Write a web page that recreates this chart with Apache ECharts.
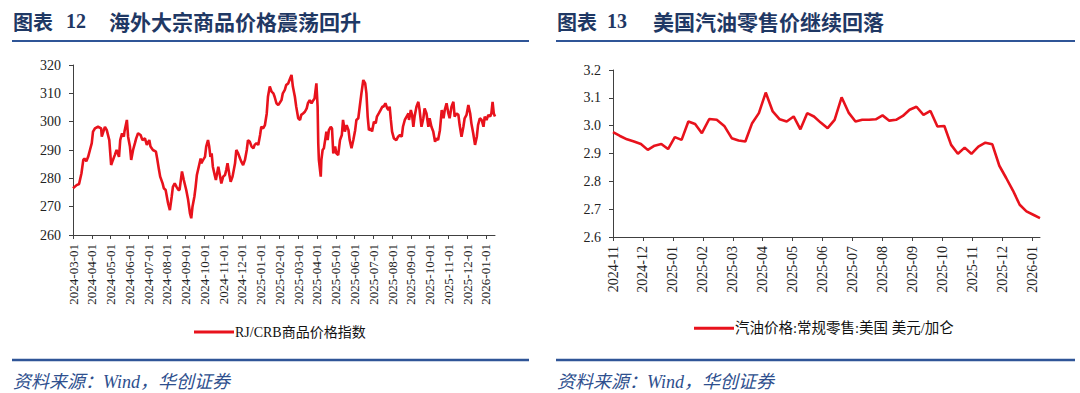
<!DOCTYPE html>
<html><head><meta charset="utf-8">
<script src="https://cdn.jsdelivr.net/npm/echarts@6/dist/echarts.min.js"></script>
<style>html,body{margin:0;padding:0;background:#fff;}#c{width:1080px;height:393px;}</style>
</head><body><div id="c"></div>
<script>
// ---------- Chart 12 data: RJ/CRB commodity index ----------
const crbName = 'RJ/CRB商品价格指数';
const crbTickLabels = ['2024-03-01','2024-04-01','2024-05-01','2024-06-01','2024-07-01','2024-08-01','2024-09-01','2024-10-01','2024-11-01','2024-12-01','2025-01-01','2025-02-01','2025-03-01','2025-04-01','2025-05-01','2025-06-01','2025-07-01','2025-08-01','2025-09-01','2025-10-01','2025-11-01','2025-12-01','2026-01-01'];
const crbDates = ['2024-03-01','2024-03-07','2024-03-11','2024-03-15','2024-03-18','2024-03-20','2024-03-23','2024-03-26','2024-03-29','2024-04-01','2024-04-03','2024-04-06','2024-04-11','2024-04-16','2024-04-17','2024-04-22','2024-04-25','2024-04-29','2024-05-01','2024-05-02','2024-05-05','2024-05-08','2024-05-11','2024-05-15','2024-05-17','2024-05-20','2024-05-23','2024-05-24','2024-05-28','2024-05-30','2024-06-02','2024-06-04','2024-06-07','2024-06-10','2024-06-12','2024-06-15','2024-06-19','2024-06-22','2024-06-26','2024-06-29','2024-07-03','2024-07-05','2024-07-09','2024-07-14','2024-07-16','2024-07-19','2024-07-21','2024-07-25','2024-07-27','2024-07-30','2024-08-03','2024-08-06','2024-08-09','2024-08-11','2024-08-14','2024-08-17','2024-08-20','2024-08-22','2024-08-26','2024-08-29','2024-09-02','2024-09-05','2024-09-08','2024-09-10','2024-09-12','2024-09-15','2024-09-17','2024-09-19','2024-09-22','2024-09-25','2024-09-26','2024-09-29','2024-10-02','2024-10-04','2024-10-07','2024-10-09','2024-10-11','2024-10-13','2024-10-15','2024-10-18','2024-10-20','2024-10-24','2024-10-26','2024-10-29','2024-11-01','2024-11-04','2024-11-06','2024-11-08','2024-11-11','2024-11-13','2024-11-16','2024-11-20','2024-11-22','2024-11-25','2024-11-28','2024-11-30','2024-12-03','2024-12-06','2024-12-09','2024-12-11','2024-12-14','2024-12-17','2024-12-20','2024-12-22','2024-12-25','2024-12-28','2024-12-31','2025-01-02','2025-01-05','2025-01-08','2025-01-11','2025-01-13','2025-01-16','2025-01-19','2025-01-22','2025-01-24','2025-01-27','2025-01-30','2025-02-01','2025-02-04','2025-02-06','2025-02-09','2025-02-11','2025-02-14','2025-02-16','2025-02-19','2025-02-21','2025-02-24','2025-02-26','2025-03-01','2025-03-04','2025-03-06','2025-03-09','2025-03-12','2025-03-15','2025-03-17','2025-03-20','2025-03-23','2025-03-26','2025-03-28','2025-03-31','2025-04-02','2025-04-03','2025-04-04','2025-04-07','2025-04-08','2025-04-10','2025-04-12','2025-04-14','2025-04-16','2025-04-18','2025-04-20','2025-04-23','2025-04-25','2025-04-27','2025-04-30','2025-05-02','2025-05-05','2025-05-08','2025-05-11','2025-05-13','2025-05-16','2025-05-19','2025-05-22','2025-05-24','2025-05-27','2025-05-30','2025-06-02','2025-06-04','2025-06-07','2025-06-10','2025-06-12','2025-06-15','2025-06-18','2025-06-20','2025-06-22','2025-06-24','2025-06-27','2025-06-29','2025-07-02','2025-07-05','2025-07-07','2025-07-10','2025-07-13','2025-07-16','2025-07-18','2025-07-21','2025-07-24','2025-07-26','2025-07-28','2025-07-30','2025-08-01','2025-08-04','2025-08-08','2025-08-11','2025-08-14','2025-08-17','2025-08-19','2025-08-22','2025-08-25','2025-08-28','2025-08-29','2025-09-01','2025-09-03','2025-09-05','2025-09-07','2025-09-10','2025-09-13','2025-09-15','2025-09-18','2025-09-21','2025-09-23','2025-09-26','2025-09-29','2025-10-01','2025-10-04','2025-10-07','2025-10-10','2025-10-12','2025-10-15','2025-10-18','2025-10-21','2025-10-24','2025-10-26','2025-10-29','2025-11-01','2025-11-03','2025-11-06','2025-11-09','2025-11-11','2025-11-14','2025-11-17','2025-11-19','2025-11-22','2025-11-25','2025-11-27','2025-11-30','2025-12-03','2025-12-06','2025-12-08','2025-12-11','2025-12-14','2025-12-17','2025-12-19','2025-12-22','2025-12-25','2025-12-28','2025-12-30','2026-01-02','2026-01-05','2026-01-08','2026-01-10','2026-01-12','2026-01-14','2026-01-16'];
const crbValues = [276.5,277.6,278.0,281.8,286.5,287.0,286.0,287.6,290.0,292.4,296.5,297.6,298.2,297.6,294.7,298.2,297.0,293.5,287.6,284.7,286.5,288.2,290.0,287.6,293.5,295.9,294.7,296.5,300.6,294.7,291.2,286.5,290.0,292.4,294.1,295.9,295.3,293.5,294.1,291.8,293.5,291.2,290.0,289.4,287.0,283.0,280.6,278.2,276.5,275.9,271.2,268.8,273.5,277.0,278.2,277.0,275.9,275.9,282.4,279.4,275.9,272.4,267.6,265.9,270.0,273.5,277.0,281.2,284.1,287.0,285.3,286.5,287.6,291.2,293.5,291.2,287.6,288.8,284.1,281.2,279.4,284.1,281.8,278.2,280.6,281.2,283.0,285.3,281.2,278.8,280.6,285.3,290.0,288.8,287.0,285.9,284.7,286.5,290.0,293.5,292.9,291.2,290.6,291.8,292.4,291.8,295.3,298.2,297.6,298.8,302.9,308.8,312.4,310.6,310.0,308.8,306.5,305.9,306.5,307.6,310.0,311.2,312.9,313.5,314.7,316.5,312.4,308.8,305.3,301.2,300.6,302.4,302.9,303.5,304.7,306.5,307.6,306.5,307.6,308.2,313.5,305.3,292.4,286.5,280.6,286.5,290.0,290.6,293.5,296.5,293.5,297.0,298.2,297.6,288.8,291.2,288.8,288.2,293.5,295.3,300.6,296.5,298.8,297.0,293.5,290.6,293.5,297.0,300.6,301.2,306.5,310.0,314.7,313.5,310.0,301.8,297.0,297.6,296.5,300.0,299.4,301.8,302.9,304.1,305.3,305.3,306.5,304.7,304.1,305.3,300.6,296.5,294.1,293.5,294.7,295.3,294.7,298.2,300.6,301.8,302.9,300.6,304.1,302.4,298.2,301.8,305.3,307.0,304.1,298.2,301.2,304.7,302.9,298.2,301.2,298.2,296.5,292.9,294.1,293.5,297.0,304.1,301.2,304.1,306.5,302.9,301.2,305.3,307.0,301.8,302.9,302.4,298.8,294.7,298.2,301.2,302.4,305.9,302.9,299.4,295.9,291.8,294.7,298.8,301.2,300.6,298.2,301.8,300.6,302.4,301.8,302.9,307.0,302.9,301.8];

// ---------- Chart 13 data: US regular gasoline retail price ----------
const gasName = '汽油价格:常规零售:美国 美元/加仑';
const gasTickLabels = ['2024-11','2024-12','2025-01','2025-02','2025-03','2025-04','2025-05','2025-06','2025-07','2025-08','2025-09','2025-10','2025-11','2025-12','2026-01'];
const gasDates = ['2024-11-01','2024-11-08','2024-11-15','2024-11-22','2024-11-29','2024-12-06','2024-12-13','2024-12-20','2024-12-27','2025-01-03','2025-01-10','2025-01-17','2025-01-24','2025-01-31','2025-02-07','2025-02-14','2025-02-21','2025-02-28','2025-03-07','2025-03-14','2025-03-21','2025-03-28','2025-04-04','2025-04-11','2025-04-18','2025-04-25','2025-05-02','2025-05-09','2025-05-16','2025-05-23','2025-05-30','2025-06-06','2025-06-13','2025-06-20','2025-06-27','2025-07-04','2025-07-11','2025-07-18','2025-07-25','2025-08-01','2025-08-08','2025-08-15','2025-08-22','2025-08-29','2025-09-05','2025-09-12','2025-09-19','2025-09-26','2025-10-03','2025-10-10','2025-10-17','2025-10-24','2025-10-31','2025-11-07','2025-11-14','2025-11-21','2025-11-28','2025-12-05','2025-12-12','2025-12-19','2025-12-26','2026-01-02','2026-01-09'];
const gasValues = [2.977,2.963,2.951,2.943,2.934,2.913,2.928,2.934,2.916,2.959,2.949,3.015,3.006,2.973,3.024,3.021,2.999,2.955,2.947,2.943,3.009,3.045,3.119,3.051,3.023,3.015,3.033,2.987,3.045,3.033,3.011,2.991,3.021,3.102,3.047,3.015,3.021,3.021,3.023,3.037,3.018,3.021,3.035,3.057,3.068,3.039,3.053,2.997,2.999,2.931,2.899,2.921,2.899,2.925,2.939,2.933,2.856,2.812,2.767,2.716,2.692,2.680,2.668];

// month index (fractional) relative to a base month
function daysIn(y, m) { return new Date(y, m, 0).getDate(); }
function monthIndex(s, by, bm) {
  const [y, m, d] = s.split('-').map(Number);
  return (y - by) * 12 + (m - bm) + (d - 1) / daysIn(y, m);
}
const crbData = crbDates.map((d, i) => [monthIndex(d, 2024, 3), crbValues[i]]);
const gasData = gasDates.map((d, i) => [monthIndex(d, 2024, 11), gasValues[i]]);

const RED = '#E8121C';
const AX = '#404040';
const SERIF = "'Liberation Serif','Times New Roman','Noto Sans CJK SC',serif";
const CJK = "'Liberation Serif','Noto Sans CJK SC',serif";
const NAVY = '#1F3864';
const BLUE = '#2F5597';

function xAxisDef(grid, labels, fs, margin) {
  const vals = labels.map((_, i) => i);
  return {
    type: 'value', gridIndex: grid, min: 0, max: v => v.max,
    axisLine: { show: true, lineStyle: { color: AX, width: 1 } },
    axisTick: { show: true, length: 4, lineStyle: { color: AX }, customValues: vals },
    axisLabel: { rotate: 90, margin: margin, fontFamily: SERIF, fontSize: fs, color: '#222',
      customValues: vals, formatter: v => labels[Math.round(v)] || '' },
    splitLine: { show: false }
  };
}
function yAxisDef(grid, min, max, interval, fmt) {
  return {
    type: 'value', gridIndex: grid, min, max, interval,
    axisLine: { show: true, lineStyle: { color: AX, width: 1 } },
    axisTick: { show: true, length: 4, lineStyle: { color: AX } },
    axisLabel: { margin: 12, fontFamily: SERIF, fontSize: 14, color: '#222', formatter: fmt },
    splitLine: { show: false }
  };
}
function txt(x, y, text, font, fill) {
  return { type: 'text', silent: true, style: { x, y, text, font, fill, textVerticalAlign: 'middle', verticalAlign: 'middle' } };
}
function hline(x1, x2, y, w) {
  return { type: 'line', silent: true, shape: { x1, y1: y, x2, y2: y }, style: { stroke: BLUE, lineWidth: w } };
}

const chart = echarts.init(document.getElementById('c'), null, { renderer: 'svg', width: 1080, height: 393 });
chart.setOption({
  animation: false,
  backgroundColor: '#fff',
  grid: [
    { left: 73, top: 65, width: 422, height: 170 },
    { left: 613, top: 70, width: 427, height: 167 }
  ],
  xAxis: [xAxisDef(0, crbTickLabels, 13, 9), xAxisDef(1, gasTickLabels, 14, 9)],
  yAxis: [
    yAxisDef(0, 260, 320, 10, v => String(v)),
    yAxisDef(1, 2.6, 3.2, 0.1, v => v.toFixed(1))
  ],
  legend: [
    { data: [crbName], left: 189, top: 320, icon: 'rect', itemWidth: 40, itemHeight: 3, itemGap: 0,
      textStyle: { fontFamily: CJK, fontSize: 14, color: '#111', padding: [0, 0, 0, -4] } },
    { data: [gasName], left: 689, top: 316, icon: 'rect', itemWidth: 40, itemHeight: 3, itemGap: 0,
      textStyle: { fontFamily: CJK, fontSize: 14.5, color: '#111', padding: [0, 0, 0, -4] } }
  ],
  series: [
    { name: crbName, type: 'line', xAxisIndex: 0, yAxisIndex: 0, data: crbData, showSymbol: false,
      lineStyle: { color: RED, width: 2.6 }, itemStyle: { color: RED } },
    { name: gasName, type: 'line', xAxisIndex: 1, yAxisIndex: 1, data: gasData, showSymbol: false,
      lineStyle: { color: RED, width: 2.6 }, itemStyle: { color: RED } }
  ],
  graphic: [
    txt(13, 21, '图表', "bold 20px 'Noto Sans CJK SC'", NAVY),
    txt(66, 21, '12', "bold 20px 'Liberation Serif'", NAVY),
    txt(109, 21, '海外大宗商品价格震荡回升', "bold 21px 'Noto Sans CJK SC'", NAVY),
    txt(557, 21, '图表', "bold 20px 'Noto Sans CJK SC'", NAVY),
    txt(607, 21, '13', "bold 20px 'Liberation Serif'", NAVY),
    txt(653, 21, '美国汽油零售价继续回落', "bold 21px 'Noto Sans CJK SC'", NAVY),
    hline(12, 529, 41, 2),
    hline(556, 1075, 41, 2),
    hline(12, 529, 360, 2.5),
    hline(556, 1075, 360, 2.5),
    txt(13, 382, '资料来源：Wind，华创证券', "italic 18px 'Liberation Serif','Noto Sans CJK SC'", '#2E4F8E'),
    txt(557, 382, '资料来源：Wind，华创证券', "italic 18px 'Liberation Serif','Noto Sans CJK SC'", '#2E4F8E')
  ]
});
</script></body></html>
